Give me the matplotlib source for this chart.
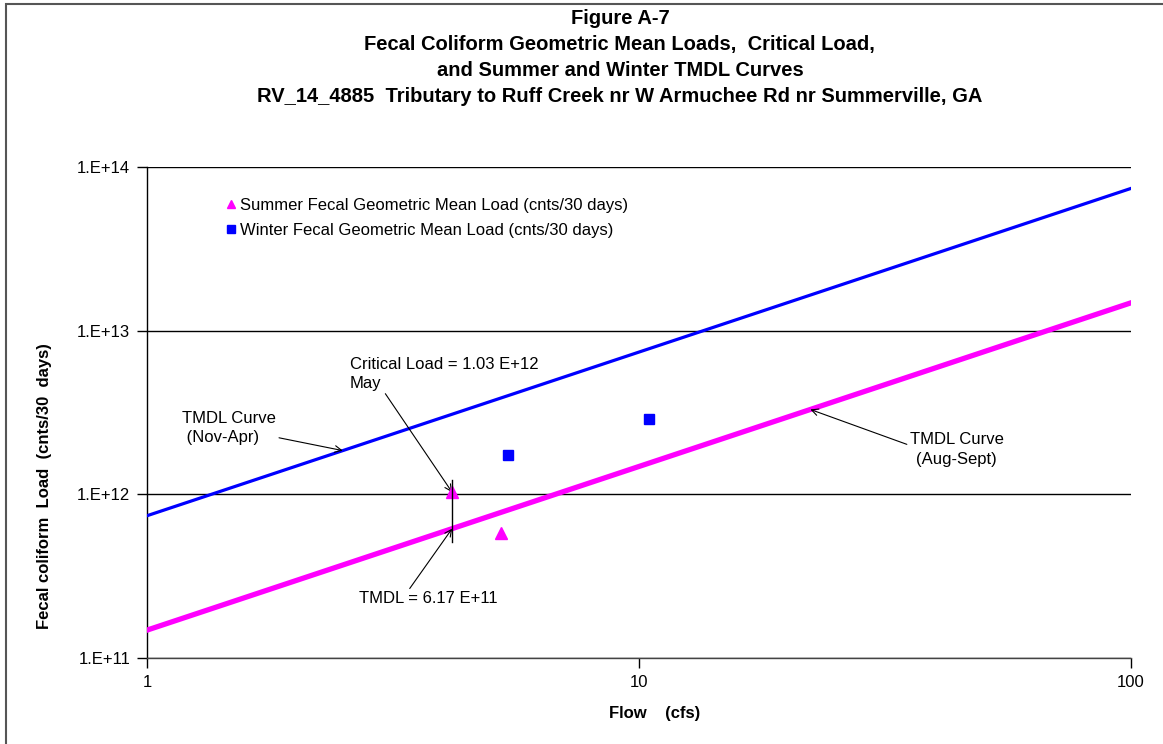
import numpy as np
import matplotlib.pyplot as plt
from matplotlib.patches import Rectangle

plt.rcParams['font.family'] = ['Liberation Sans', 'DejaVu Sans']

# TMDL curves: load (cnts/30 days) per cfs of flow
flow_curve = [1, 100]
summer_ratio = 1.48e11
winter_ratio = 7.4e11

# seasonal geometric mean loads
summer_flow = [5.24]
summer_load = [5.78e11]
winter_flow = [5.42, 10.48]
winter_load = [1.75e12, 2.9e12]

# critical condition
crit_flow = 4.17
crit_load = 1.03e12
tmdl_load = 6.17e11

fig = plt.figure(figsize=(11.63, 7.44), dpi=100)
ax = fig.add_axes([147 / 1163, 1 - 658 / 744, 984 / 1163, 491 / 744])

# outer chart border
fig.patches.append(Rectangle((6 / 1163, -0.05), 1.2, 1.05 - 4 / 744, transform=fig.transFigure,
                             fill=False, edgecolor='#555555', linewidth=1.5))

fc = np.array(flow_curve, dtype=float)
ax.plot(fc, winter_ratio * fc, color='#0000ff', linewidth=2.3, zorder=3)
ax.plot(fc, summer_ratio * fc, color='#ff00ff', linewidth=3.8, zorder=3)

ax.plot(summer_flow, summer_load, linestyle='none', marker='^', color='#ff00ff',
        markersize=8, label='Summer Fecal Geometric Mean Load (cnts/30 days)', zorder=4)
ax.plot(winter_flow, winter_load, linestyle='none', marker='s', color='#0000ff',
        markersize=7, label='Winter Fecal Geometric Mean Load (cnts/30 days)', zorder=4)
ax.plot([crit_flow], [crit_load], linestyle='none', marker='^', color='#ff00ff',
        markersize=8, zorder=4)

# connector between critical load and TMDL
ax.plot([crit_flow, crit_flow], [tmdl_load * 0.83, crit_load * 1.18], color='black',
        linewidth=1, zorder=5)

ax.set_xscale('log')
ax.set_yscale('log')
ax.set_xlim(1, 100)
ax.set_ylim(1e11, 1e14)
ax.set_xticks([1, 10, 100])
ax.set_xticklabels(['1', '10', '100'])
ax.set_yticks([1e11, 1e12, 1e13, 1e14])
ax.set_yticklabels(['1.E+11', '1.E+12', '1.E+13', '1.E+14'])
ax.minorticks_off()
ax.tick_params(axis='both', labelsize=12, length=7, width=1, color='black', pad=5)
ax.yaxis.grid(True, color='black', linewidth=1)
ax.set_axisbelow(True)
for side in ['top', 'right']:
    ax.spines[side].set_visible(False)
ax.spines['left'].set_linewidth(1)
ax.spines['bottom'].set_linewidth(1)
ax.spines['bottom'].set_color('#444444')

ax.set_xlabel('Flow    (cfs)', fontsize=12, fontweight='bold', va='center')
ax.xaxis.set_label_coords(0.516, -0.114)
ax.set_ylabel('Fecal coliform  Load  (cnts/30  days)', fontsize=12, fontweight='bold', va='center')
ax.yaxis.set_label_coords(-0.104, 0.35)

fig.text(0.533, 1 - 9 / 744, 'Figure A-7\nFecal Coliform Geometric Mean Loads,  Critical Load,\n'
         'and Summer and Winter TMDL Curves\n'
         'RV_14_4885  Tributary to Ruff Creek nr W Armuchee Rd nr Summerville, GA',
         ha='center', va='top', fontsize=14.5, fontweight='bold', linespacing=1.47,
         family=['Liberation Sans Narrow', 'Liberation Sans', 'DejaVu Sans'])

leg = ax.legend(loc='upper left', bbox_to_anchor=(0.074, 0.95), frameon=False, fontsize=12,
                handlelength=0.5, handletextpad=0.3, borderaxespad=0, labelspacing=0.6,
                markerscale=0.8)

arrow = dict(arrowstyle='->', color='black', linewidth=0.8, shrinkA=0, shrinkB=0)
ax.annotate('TMDL Curve\n (Nov-Apr)', xy=(2.5, winter_ratio * 2.5), xytext=(1.18, 2.55e12),
            fontsize=12, ha='left', va='center', linespacing=1.35, arrowprops=arrow)
ax.annotate('Critical Load = 1.03 E+12\nMay', xy=(crit_flow, crit_load), xytext=(2.58, 5.45e12),
            fontsize=12, ha='left', va='center', linespacing=1.35,
            arrowprops=dict(arrow, relpos=(0.18, 0.0)))
ax.annotate('TMDL = 6.17 E+11', xy=(crit_flow, tmdl_load), xytext=(2.7, 2.3e11),
            fontsize=12, ha='left', va='center', arrowprops=dict(arrow, relpos=(0.35, 1.0)))
ax.annotate('TMDL Curve\n(Aug-Sept)', xy=(22.3, summer_ratio * 22.3), xytext=(44.2, 1.88e12),
            fontsize=12, ha='center', va='center', linespacing=1.35,
            arrowprops=dict(arrow, relpos=(0.0, 0.62)))

fig.savefig('out.png', dpi=100)
